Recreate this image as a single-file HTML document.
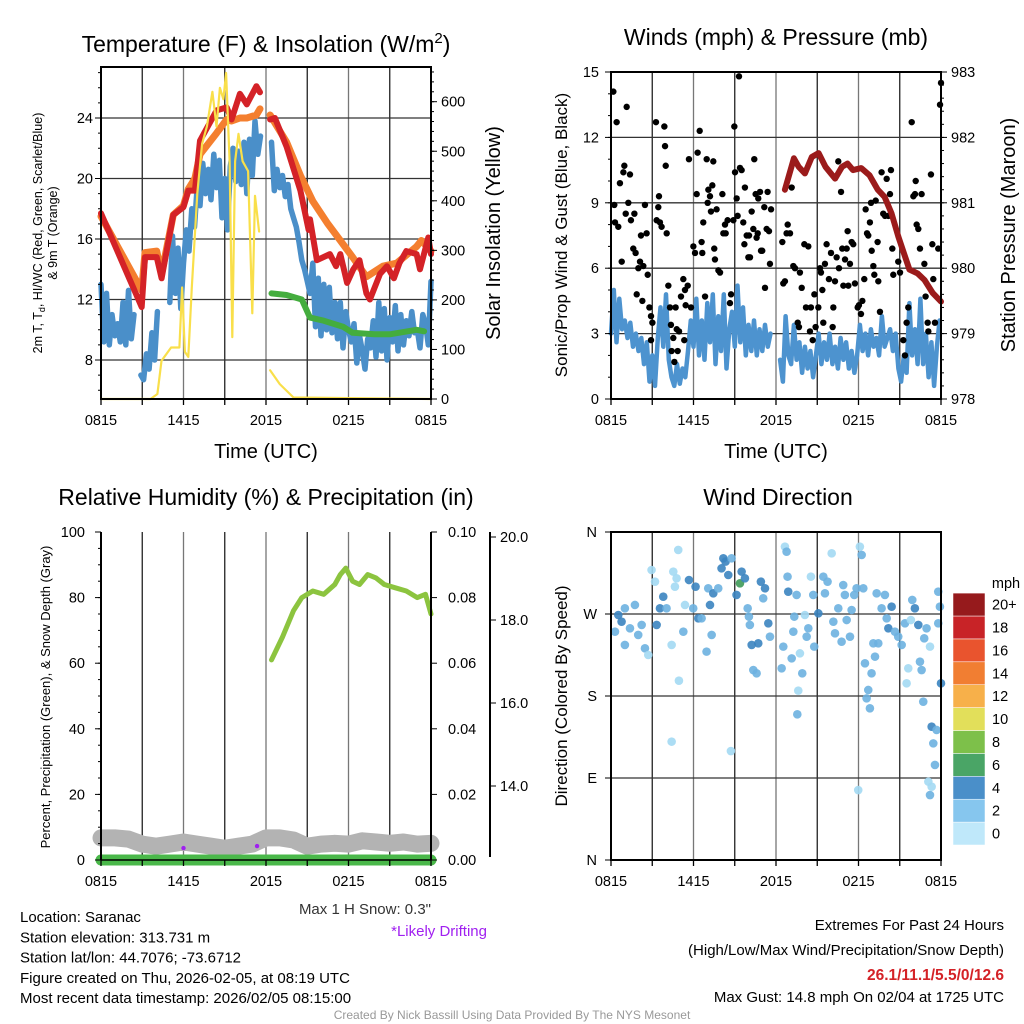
<!DOCTYPE html>
<html><head><meta charset="utf-8">
<style>
html,body{margin:0;padding:0;background:#fff;}
svg{display:block;font-family:"Liberation Sans",Arial,sans-serif;}
</style></head>
<body>
<svg id="c" width="1024" height="1024" viewBox="0 0 1024 1024"></svg>
<script>
// ---------- DATA ----------
const xTickLabels=["0815","1415","2015","0215","0815"];
// Temperature (F)
const redT=[0,2.96,3.2,4.05,4.41,5.26,5.99,6.35,6.83,7.2,8.41,9.14,9.5,10.1,10.6,11.3,11.56,null,12.3,12.65,13.5,14.5,15.1,15.2,15.7,16.65,17.1,17.4,17.9,18.35,18.8,19.3,19.56,20.3,20.8,21.3,21.7,22.2,22.95,23.2,23.8,24];
const redV=[17.7,11.5,14.8,14.8,13.4,17.6,18.1,19.2,19.2,22.5,24.5,24.7,23.9,25.6,24.9,26.1,25.7,null,23.9,24,22.1,19.2,16.6,17.3,14.6,15.0,14.2,15.0,13.1,14.0,14.6,12.4,12.0,13.7,14.2,13.4,14.4,15.2,15.0,14.0,16.1,15.0];
const orgT=[0,2.96,3.2,4.05,4.41,5.26,5.99,6.35,6.83,7.2,8.41,9.14,9.5,10.1,10.6,11.3,11.56,null,12.3,13.5,14.5,15.4,16.5,17.4,18.3,19.3,20.5,21.5,22.95,23.3,24];
const orgV=[17.5,12.6,15.1,15.2,13.7,17.6,18.2,19.3,20.0,21.6,23.0,23.9,23.8,24.0,24.0,24.2,24.6,null,24.2,22.4,20.2,18.5,17.0,15.9,14.8,13.5,14.2,14.4,15.5,15.9,15.2];
const blueT1=[13.0,9.2,12.4,9.0,11.0,9.6,10.4,9.2,11.8,9.0,12.6,9.4,11.0];
const blueT2=[7.0,6.7,8.4,7.4,9.8,8.0,11.2];
const blueT3=[11.8,16.2,12.4,15.4,11.4,14.4,16.6,15.2,18.0,16.8,19.6,18.2,21.0,19.0,20.6,18.6,21.6,19.4,21.2,17.4,20.0,16.6,20.8,22.0,19.8,21.8,19.6,22.4,19.0,22.6,20.2,23.8,21.6,22.8];
const blueT4=[22.4,19.2,20.6,19.4,20.2,18.8,19.6,18.0,17.4,16.8,15.8,14.6,14.0,13.2,12.4,14.4,10.2,13.4,9.6,13.0,10.0,12.8,9.8,11.8,9.4,11.8,8.8,11.2,10.0,9.2,10.4,7.8,9.6,8.6,7.4,9.4,8.8,10.6,8.2,11.8,8.6,11.4,8.0,10.8,9.2,11.6,8.6,11.0,9.0,10.6,9.6,11.2,9.8,10.0,8.8,11.0,10.4,9.0,13.2];
const blueStarts=[0,2.9,5.0,12.4];
const greenTT=[12.4,13.5,14.6,15.2,16.2,17.6,18.3,19.9,21.0,22.95,23.5];
const greenTV=[12.4,12.3,12.0,10.8,10.6,10.2,9.8,9.7,9.7,10.0,9.9];
// Solar (W/m2)
const solT=[0,3.6,4.1,4.4,5.1,5.7,5.9,6.1,6.35,6.6,7.0,7.35,7.7,8.1,8.4,8.65,8.9,9.1,9.35,9.55,9.75,10.0,10.3,10.7,11.0,11.2,11.5,null,12.3,13.0,14.0,24];
const solV=[0,0,10,77,104,104,225,95,85,225,415,515,550,620,550,628,605,658,480,125,480,535,480,460,173,410,338,null,58,30,3,0];
// Wind (mph)
const windA=[3.0,5.0,2.6,4.6,3.2,3.6,2.8,3.5,2.4,3.0,2.2,2.8,1.6,2.6,0.8,2.0,0.6,2.8,4.2,2.4,4.8,1.8,1.0,0.6,1.6,0.7,1.4,1.0,2.2,3.6,2.4,4.6,2.0,3.6,1.8,4.4,2.6,4.8,1.6,3.8,2.2,4.8,1.4,3.2,4.0,2.4,5.2,2.6,4.2,2.0,3.4,2.2,3.6,2.0,3.2,2.2,3.4,2.4,3.0];
const windB=[1.8,0.8,3.8,2.0,1.6,3.4,1.8,2.6,1.2,2.4,1.4,2.2,1.0,2.0,3.0,1.6,2.6,1.8,3.0,1.6,2.4,1.4,2.8,1.8,2.6,1.4,2.2,1.2,2.0,3.4,2.2,3.0,2.0,3.2,2.4,2.8,2.0,3.8,2.4,2.8,3.2,2.2,3.0,1.4,0.8,2.0,1.2,4.4,2.0,3.2,1.6,4.6,1.6,3.0,1.0,2.6,0.6,2.4,3.6];
const windStarts=[0,12.3];
const gustT=[0.17,0.41,0.24,0.29,0.53,0.65,0.78,0.9,0.97,1.14,1.07,1.38,1.26,1.45,1.62,1.7,1.79,1.87,1.99,2.18,2.11,2.28,2.35,2.47,2.59,2.67,2.79,2.91,3.01,2.91,3.27,3.32,3.44,3.49,3.56,3.68,3.88,3.93,3.98,4.05,4.17,4.29,4.36,4.41,4.53,4.61,4.7,4.78,4.85,4.95,5.09,5.26,5.33,5.38,5.43,5.58,5.67,5.82,5.99,6.11,6.23,6.3,6.45,6.59,6.64,6.71,6.84,6.96,7.03,7.08,7.2,7.27,7.37,7.44,7.51,7.56,7.68,7.81,7.93,8.1,8.17,8.29,8.34,8.48,8.65,8.73,8.9,8.97,9.02,9.14,9.21,9.31,9.38,9.5,9.62,9.7,9.74,9.87,9.99,10.04,10.11,10.23,10.35,10.42,10.52,10.59,10.67,10.71,10.84,10.91,11.0,11.15,11.2,11.32,11.39,11.49,11.56,11.64,
12.46,12.53,12.65,12.77,12.85,13.02,13.14,13.26,13.38,13.58,13.67,13.74,13.87,14.06,14.18,14.35,14.47,14.54,14.67,14.79,14.88,15.08,15.2,15.27,15.37,15.44,15.56,15.68,15.85,16.0,16.12,16.17,16.29,16.41,16.53,16.58,16.73,16.82,16.9,17.02,17.14,17.21,17.26,17.38,17.5,17.62,17.74,17.94,18.03,18.18,18.28,18.42,18.52,18.62,18.71,18.83,18.91,18.96,19.08,19.15,19.25,19.39,19.44,19.56,19.68,19.8,19.93,20.05,20.17,20.29,20.36,20.46,20.53,20.89,21.02,21.26,21.38,21.5,21.62,21.87,21.99,22.11,22.16,22.23,22.35,22.47,22.59,22.79,22.88,23.03,23.08,23.27,23.37,23.44,23.56,23.8,23.93,24.0];
const gustV=[14.1,12.7,8.9,8.1,7.9,9.9,6.3,10.4,10.7,13.4,8.5,10.3,9.0,8.2,6.9,8.5,6.7,4.8,6.0,7.5,6.3,4.5,6.1,8.9,7.6,5.7,4.2,3.8,3.5,2.7,12.7,8.2,8.8,9.3,8.1,7.9,12.5,11.6,10.7,7.6,5.2,4.2,3.4,2.2,2.8,1.7,4.2,3.2,2.2,3.1,4.7,5.5,2.7,5.0,4.3,5.2,11.0,4.2,7.0,6.7,9.4,11.3,12.3,7.2,6.7,8.1,4.7,11.0,9.0,9.6,9.3,8.6,9.8,10.9,6.9,6.4,8.7,5.9,5.8,9.4,7.6,8.0,7.6,8.2,4.4,4.8,8.2,12.5,10.4,9.2,8.4,14.8,10.6,10.5,8.1,7.1,9.7,7.5,6.5,7.5,6.5,8.6,7.8,11.0,9.4,7.4,7.6,9.2,9.5,6.8,6.8,8.8,5.1,7.8,9.5,7.7,6.2,8.7,
7.2,5.3,5.4,7.6,8.0,7.6,9.7,6.1,6.0,3.5,3.3,5.8,5.1,7.1,4.2,7.0,3.1,4.2,2.7,4.8,3.3,4.2,6.0,5.8,5.0,3.5,6.2,7.1,5.5,6.7,3.3,4.2,5.4,6.5,10.9,6.0,9.5,6.9,5.2,6.4,6.9,7.7,5.2,6.2,7.2,7.1,5.3,4.2,4.3,3.9,4.5,5.5,8.7,7.6,7.5,8.1,9.0,6.8,6.1,5.7,9.1,7.2,5.4,4.0,10.4,8.5,8.4,10.1,8.4,9.4,10.5,6.9,5.7,6.3,5.8,2.7,2.0,3.5,4.2,12.7,9.3,9.4,10.0,8.0,7.8,6.9,9.4,6.2,4.7,3.5,3.1,10.3,7.1,5.5,3.5,6.9,13.5,14.5];
// Pressure (mb)
const presT=[12.65,13.3,13.65,14.1,14.6,15.1,15.6,16.3,16.8,17.2,17.6,18.2,18.8,19.4,19.9,20.4,20.9,21.3,21.7,22.3,22.8,23.4,24];
const presV=[981.2,981.68,981.55,981.45,981.7,981.76,981.55,981.37,981.55,981.6,981.5,981.53,981.42,981.2,981.09,980.84,980.48,980.23,979.98,979.92,979.82,979.62,979.49];
// RH (%)
const rhT=[12.4,13.2,14.0,14.6,15.4,16.2,17.0,17.4,17.8,18.3,18.8,19.4,20.0,20.6,21.4,22.2,23.0,23.6,24];
const rhV=[61,68,76,80,82,81,84,87,89,85,84,87,86,84,83,82,80,81,75];
// Snow depth (in) hourly
const snowV=[12.75,12.75,12.72,12.6,12.55,12.6,12.65,12.6,12.55,12.5,12.55,12.6,12.75,12.75,12.7,12.55,12.6,12.62,12.6,12.68,12.65,12.62,12.65,12.6,12.62];
const precipT=[0,11.92,null,12.08,24];
const precipV=[0,0,null,0,0];
const driftT=[6.0,11.35];
const driftV=[12.6,12.65];
// Wind direction (deg) & speed (mph)
const dirT=[0.29,0.53,0.77,1.01,1.01,1.38,1.74,1.98,2.23,2.47,2.71,2.95,3.2,3.32,3.56,3.8,4.04,4.41,4.53,4.77,4.65,4.89,4.94,4.41,5.26,5.38,5.67,5.98,6.15,6.35,6.59,6.95,7.07,7.2,7.32,7.44,7.8,8.04,8.17,8.33,8.53,8.77,8.72,9.13,9.38,9.5,9.74,9.94,10.03,10.1,10.23,10.35,10.59,10.71,10.9,11.07,11.2,11.44,11.56,12.41,12.53,12.65,12.77,12.84,12.89,13.14,13.26,13.33,13.5,13.55,13.62,13.74,13.91,14.1,14.23,14.35,14.54,14.71,14.78,15.08,15.44,15.56,15.75,16.05,16.17,16.29,16.53,16.77,16.89,17.01,17.14,17.38,17.5,17.69,17.86,17.98,18.1,18.23,18.35,18.47,18.59,18.71,18.83,18.95,19.08,19.2,19.32,19.44,19.68,19.92,20.05,20.17,20.41,20.65,20.89,21.14,21.38,21.5,21.62,21.81,21.91,22.1,22.35,22.47,22.59,22.71,22.78,22.95,23.2,23.32,23.44,23.56,23.68,23.08,23.2,23.32,23.8,23.92,24.0,23.8];
const dirV=[250.6,268.9,261.6,276.2,236,254.3,279.9,247,258,232.3,225,318.3,305.5,258,276.2,289,276.2,236,316.5,309.2,300,340.3,196.8,129.9,250.6,279.9,307.3,276.2,300,265.3,265.3,228.7,298.2,279.9,247,292.7,298.2,320.1,331.1,327.5,312.8,331.1,119.6,290.9,303.7,316.5,309.2,276.2,267.1,258,236,208.5,204.9,237.8,305.5,287.2,298.2,259.8,245.1,210.4,234.2,343.9,338.4,311,294.5,221.3,250.6,267.1,290.9,159.9,185.9,226.8,204.9,268.9,245.1,254.3,311,290.9,234.2,270.7,311,292.7,305.5,336.6,261.6,248.8,276.2,239.6,301.8,290.9,263.4,245.1,274.4,290.9,298.2,76.8,343.9,334.8,298.2,215.9,177.4,186.6,166.5,204.9,237.8,223.2,292.7,237.8,276.2,290.9,265.3,254.3,278,250.6,245.1,236,259.8,193.9,210.4,263.4,285.4,276.2,258,217.7,208.5,173.8,243.3,254.3,234.2,146.3,128,104.3,142.7,86,71.3,80.5,294.5,278,193.9,259.8];
const dirS=[3,5,5,3,3,3,3,3,3,3,1,1,1,5,5,5,3,1,1,1,1,1,1,1,3,1,5,3,5,5,3,3,3,5,3,5,3,5,5,5,5,3,1,5,7,5,5,3,3,3,5,3,3,5,5,3,5,5,3,3,3,1,3,3,5,3,3,3,3,3,1,1,3,1,3,3,1,3,3,5,3,3,3,1,3,3,3,3,3,3,3,3,3,3,3,1,1,3,3,3,3,3,3,3,3,3,3,3,3,3,3,5,5,3,3,3,3,1,1,1,3,5,5,3,3,3,3,3,1,5,3,3,3,1,3,1,3,3,5,3,3];
const cbarLabels=["0","2","4","6","8","10","12","14","16","18","20+"];
const cbarColors=["#bfe8fa","#86c6ee","#4a8fc9","#4aa566","#7dc04a","#e2df5a","#f7b04a","#f17e32","#e9542e","#c82327","#961a1c"];
const pointColors=["#a3d9f3","#6db1e0","#3b84c0","#3f9a58","#7dc04a","#e2df5a","#f7b04a","#f17e32","#e9542e","#c82327","#961a1c"];

// ---------- HELPERS ----------
const svg=document.getElementById('c');
const NS="http://www.w3.org/2000/svg";
function mk(tag,attrs,parent){const e=document.createElementNS(NS,tag);for(const k in attrs)e.setAttribute(k,attrs[k]);(parent||svg).appendChild(e);return e;}
function txt(x,y,s,size,anchor,parent,extra){const e=mk('text',Object.assign({x:x,y:y,'font-size':size,'text-anchor':anchor||'middle',fill:'#000'},extra||{}),parent);e.textContent=s;return e;}
function pathFrom(ts,vs,fx,fy){let d='',pen=false;for(let i=0;i<ts.length;i++){if(ts[i]===null||vs[i]===null){pen=false;continue;}d+=(pen?'L':'M')+fx(ts[i]).toFixed(1)+' '+fy(vs[i]).toFixed(1);pen=true;}return d;}
function seqTimes(start,n,step){const a=[];for(let i=0;i<n;i++)a.push(start+i*step);return a;}

function frame(g,x0,y0,x1,y1,hVals,fy,vCount){
  for(let i=1;i<vCount;i++){const x=x0+(x1-x0)*i/vCount;const l=mk('line',{x1:x,y1:y0,x2:x,y2:y1,stroke:(i%2?'#222':'#777'),'stroke-width':1.3},g);}
  hVals.forEach(v=>{const y=fy(v);const l=mk('line',{x1:x0,y1:y,x2:x1,y2:y,stroke:'#333','stroke-width':1.3},g);});
}
function border(g,x0,y0,x1,y1){const r=mk('rect',{x:x0,y:y0,width:x1-x0,height:y1-y0,fill:'none',stroke:'#000','stroke-width':2},g);}
function xAxis(g,x0,x1,y){xTickLabels.forEach((s,i)=>{const x=x0+(x1-x0)*i/4;txt(x,y+26,s,14.5,'middle',g);});for(let i=0;i<=8;i++){const x=x0+(x1-x0)*i/8;mk('line',{x1:x,y1:y,x2:x,y2:y+6,stroke:'#000','stroke-width':1.3},g);}}

// ---------- PANEL 1 ----------
(function(){
 const g=mk('g',{});
 const X0=101,X1=431,Y0=67,Y1=399;
 const fx=t=>X0+t/24*(X1-X0);
 const fy=v=>360-(v-8)*15.125;
 const fs=v=>399-v*0.4955;
 frame(g,X0,Y0,X1,Y1,[8,12,16,20,24],fy,8);
 const st={fill:'none','stroke-linejoin':'round','stroke-linecap':'round'};
 const blues=[blueT1,blueT2,blueT3,blueT4];
 blues.forEach((arr,k)=>{const p=mk('path',Object.assign({d:pathFrom(seqTimes(blueStarts[k],arr.length,0.2),arr,fx,fy),stroke:'#4a8fc9','stroke-width':5.5},st),g);});
 let p=mk('path',Object.assign({d:pathFrom(greenTT,greenTV,fx,fy),stroke:'#44ad3e','stroke-width':6},st),g);
 p=mk('path',Object.assign({d:pathFrom(orgT,orgV,fx,fy),stroke:'#f47f2f','stroke-width':7},st),g);
 p=mk('path',Object.assign({d:pathFrom(redT,redV,fx,fy),stroke:'#d42227','stroke-width':6},st),g);
 p=mk('path',Object.assign({d:pathFrom(solT,solV,fx,fs),stroke:'#f9df4a','stroke-width':2.2},st),g);
 border(g,X0,Y0,X1,Y1);
 [8,12,16,20,24].forEach(v=>{txt(X0-8,fy(v)+5,String(v),14.5,'end',g);});
 for(let v=6;v<=27;v++){mk('line',{x1:X0-(v%4==0?6:3),y1:fy(v),x2:X0,y2:fy(v),stroke:'#000'},g);}
 [0,100,200,300,400,500,600].forEach(v=>{txt(X1+10,fs(v)+5,String(v),14.5,'start',g);mk('line',{x1:X1,y1:fs(v),x2:X1+6,y2:fs(v),stroke:'#000'},g);});
 for(let v=20;v<670;v+=20){mk('line',{x1:X1,y1:fs(v),x2:X1+3,y2:fs(v),stroke:'#000'},g);}
 xAxis(g,X0,X1,Y1);
 let t=txt(266,52,'',23,'middle',g);t.innerHTML='Temperature (F) &amp; Insolation (W/m<tspan dy="-9" font-size="15">2</tspan><tspan dy="9">)</tspan>';
 t=txt(266,458,'Time (UTC)',20,'middle',g);
 t=txt(0,0,'',12.5,'middle',g,{transform:'translate(42,233) rotate(-90)'});t.innerHTML='2m T, T<tspan dy="3" font-size="9">d</tspan><tspan dy="-3">, HI/WC (Red, Green, Scarlet/Blue)</tspan>';
 t=txt(0,0,'& 9m T (Orange)',12.5,'middle',g,{transform:'translate(57,233) rotate(-90)'});
 t=txt(0,0,'Solar Insolation (Yellow)',20,'middle',g,{transform:'translate(500,233) rotate(-90)'});
})();

// ---------- PANEL 2 ----------
(function(){
 const g=mk('g',{});
 const X0=611,X1=941,Y0=72,Y1=399;
 const fx=t=>X0+t/24*(X1-X0);
 const fy=v=>Y1-v*(Y1-Y0)/15;
 const fp=v=>Y1-(v-978)*(Y1-Y0)/5;
 frame(g,X0,Y0,X1,Y1,[3,6,9,12],fy,8);
 const st={fill:'none','stroke-linejoin':'round','stroke-linecap':'round'};
 [windA,windB].forEach((arr,k)=>{const p=mk('path',Object.assign({d:pathFrom(seqTimes(windStarts[k],arr.length,0.2),arr,fx,fy),stroke:'#4d93cf','stroke-width':4.5},st),g);});
 gustT.forEach((t,i)=>{const c=mk('circle',{cx:fx(t),cy:fy(gustV[i]),r:3.2,fill:'#000'},g);});
 let p=mk('path',Object.assign({d:pathFrom(presT,presV,fx,fp),stroke:'#9b1b1b','stroke-width':6},st),g);
 border(g,X0,Y0,X1,Y1);
 [0,3,6,9,12,15].forEach(v=>{txt(X0-12,fy(v)+5,String(v),14.5,'end',g);mk('line',{x1:X0-6,y1:fy(v),x2:X0,y2:fy(v),stroke:'#000'},g);});
 for(let v=1;v<15;v++){mk('line',{x1:X0-3,y1:fy(v),x2:X0,y2:fy(v),stroke:'#000'},g);}
 [978,979,980,981,982,983].forEach(v=>{txt(X1+10,fp(v)+5,String(v),14.5,'start',g);mk('line',{x1:X1,y1:fp(v),x2:X1+6,y2:fp(v),stroke:'#000'},g);});
 for(let v=978.2;v<983;v+=0.2){mk('line',{x1:X1,y1:fp(v),x2:X1+3,y2:fp(v),stroke:'#000'},g);}
 xAxis(g,X0,X1,Y1);
 let t=txt(776,45,'Winds (mph) & Pressure (mb)',23,'middle',g);
 t=txt(776,458,'Time (UTC)',20,'middle',g);
 t=txt(0,0,'Sonic/Prop Wind & Gust (Blue, Black)',17,'middle',g,{transform:'translate(567,235) rotate(-90)'});
 t=txt(0,0,'Station Pressure (Maroon)',20,'middle',g,{transform:'translate(1015,235) rotate(-90)'});
})();

// ---------- PANEL 3 ----------
(function(){
 const g=mk('g',{});
 const X0=101,X1=431,Y0=532,Y1=860;
 const fx=t=>X0+t/24*(X1-X0);
 const fy=v=>Y1-v*(Y1-Y0)/100;
 const fs=v=>786+(14-v)*41.5;
 const fpr=v=>Y1-v*(Y1-Y0)/0.1;
 frame(g,X0,Y0,X1,Y1,[],fy,8);
 const st={fill:'none','stroke-linejoin':'round','stroke-linecap':'round'};
 const hrs=seqTimes(0,25,1);
 let p=mk('path',Object.assign({d:pathFrom(hrs,snowV,fx,fs),stroke:'#b3b3b3','stroke-width':17},st),g);
 driftT.forEach((t,i)=>{const c=mk('circle',{cx:fx(t),cy:fs(driftV[i])+4,r:2.2,fill:'#a020f0'},g);});
 p=mk('path',Object.assign({d:pathFrom(precipT,precipV,fx,fpr),stroke:'#4ab84a','stroke-width':11},st),g);
 mk('line',{x1:X0,y1:Y1,x2:X1,y2:Y1,stroke:'#000','stroke-width':1.5},g);
 p=mk('path',Object.assign({d:pathFrom(rhT,rhV,fx,fy),stroke:'#8cc43f','stroke-width':5},st),g);
 mk('line',{x1:X0,y1:Y0,x2:X0,y2:Y1,stroke:'#000','stroke-width':2},g);
 mk('line',{x1:X1,y1:Y0,x2:X1,y2:Y1,stroke:'#000','stroke-width':2},g);
 [0,20,40,60,80,100].forEach(v=>{txt(X0-16,fy(v)+5,String(v),14.5,'end',g);mk('line',{x1:X0-6,y1:fy(v),x2:X0,y2:fy(v),stroke:'#000'},g);});
 for(let v=5;v<100;v+=5){mk('line',{x1:X0-3,y1:fy(v),x2:X0,y2:fy(v),stroke:'#000'},g);}
 ['0.00','0.02','0.04','0.06','0.08','0.10'].forEach((s,i)=>{const y=fpr(i*0.02);txt(X1+17,y+5,s,14.5,'start',g);mk('line',{x1:X1,y1:y,x2:X1+6,y2:y,stroke:'#000'},g);});
 mk('line',{x1:490,y1:532,x2:490,y2:857,stroke:'#000','stroke-width':2},g);
 ['14.0','16.0','18.0','20.0'].forEach((s,i)=>{const y=fs(14+i*2);txt(500,y+5,s,14.5,'start',g);mk('line',{x1:490,y1:y,x2:496,y2:y,stroke:'#000'},g);});
 xAxis(g,X0,X1,Y1);
 let t=txt(266,505,'Relative Humidity (%) & Precipitation (in)',23,'middle',g);
 t=txt(0,0,'Percent, Precipitation (Green), & Snow Depth (Gray)',13,'middle',g,{transform:'translate(50,697) rotate(-90)'});
 t=txt(431,914,'Max 1 H Snow: 0.3"',15,'end',g,{fill:'#333'});
 t=txt(487,936,'*Likely Drifting',15,'end',g,{fill:'#a020f0'});
})();

// ---------- PANEL 4 ----------
(function(){
 const g=mk('g',{});
 const X0=611,X1=941,Y0=532,Y1=860;
 const fx=t=>X0+t/24*(X1-X0);
 const fy=d=>Y1-d*(Y1-Y0)/360;
 frame(g,X0,Y0,X1,Y1,[90,180,270],fy,8);
 function col(s){const i=Math.min(10,Math.floor(s/2));return pointColors[i];}
 dirT.forEach((t,i)=>{const c=mk('circle',{cx:fx(t),cy:fy(dirV[i]),r:4.3,fill:col(dirS[i]),'fill-opacity':0.9},g);});
 border(g,X0,Y0,X1,Y1);
 ['N','E','S','W','N'].forEach((s,i)=>{const y=fy(i*90);txt(X0-14,y+5,s,14.5,'end',g);mk('line',{x1:X0-6,y1:y,x2:X0,y2:y,stroke:'#000'},g);});
 xAxis(g,X0,X1,Y1);
 let t=txt(778,505,'Wind Direction',23,'middle',g);
 t=txt(0,0,'Direction (Colored By Speed)',17,'middle',g,{transform:'translate(567,696) rotate(-90)'});
 const cb=mk('g',{},g);
 t=txt(1006,588,'mph',14.5,'middle',cb);
 const bh=22.9;
 cbarColors.forEach((c,i)=>{const y=845-(i+1)*bh;const r=mk('rect',{x:953,y:y,width:32,height:bh,fill:c,stroke:'#fff','stroke-width':0.5},cb);txt(992,y+bh/2+5,cbarLabels[i],14.5,'start',cb);});
})();

// ---------- FOOTER ----------
(function(){
 const g=mk('g',{});
 const lines=['Location: Saranac','Station elevation: 313.731 m','Station lat/lon: 44.7076; -73.6712','Figure created on Thu, 2026-02-05, at 08:19 UTC','Most recent data timestamp: 2026/02/05 08:15:00'];
 lines.forEach((s,i)=>{txt(20,922+i*20.3,s,15,'start',g);});
 txt(1004,930,'Extremes For Past 24 Hours',15,'end',g);
 txt(1004,955,'(High/Low/Max Wind/Precipitation/Snow Depth)',15,'end',g);
 txt(1004,980,'26.1/11.1/5.5/0/12.6',15.5,'end',g,{fill:'#d42227','font-weight':'bold'});
 txt(1004,1002,'Max Gust: 14.8 mph On 02/04 at 1725 UTC',15,'end',g);
 txt(512,1019,'Created By Nick Bassill Using Data Provided By The NYS Mesonet',12,'middle',g,{fill:'#999'});
})();
</script>
</body></html>
